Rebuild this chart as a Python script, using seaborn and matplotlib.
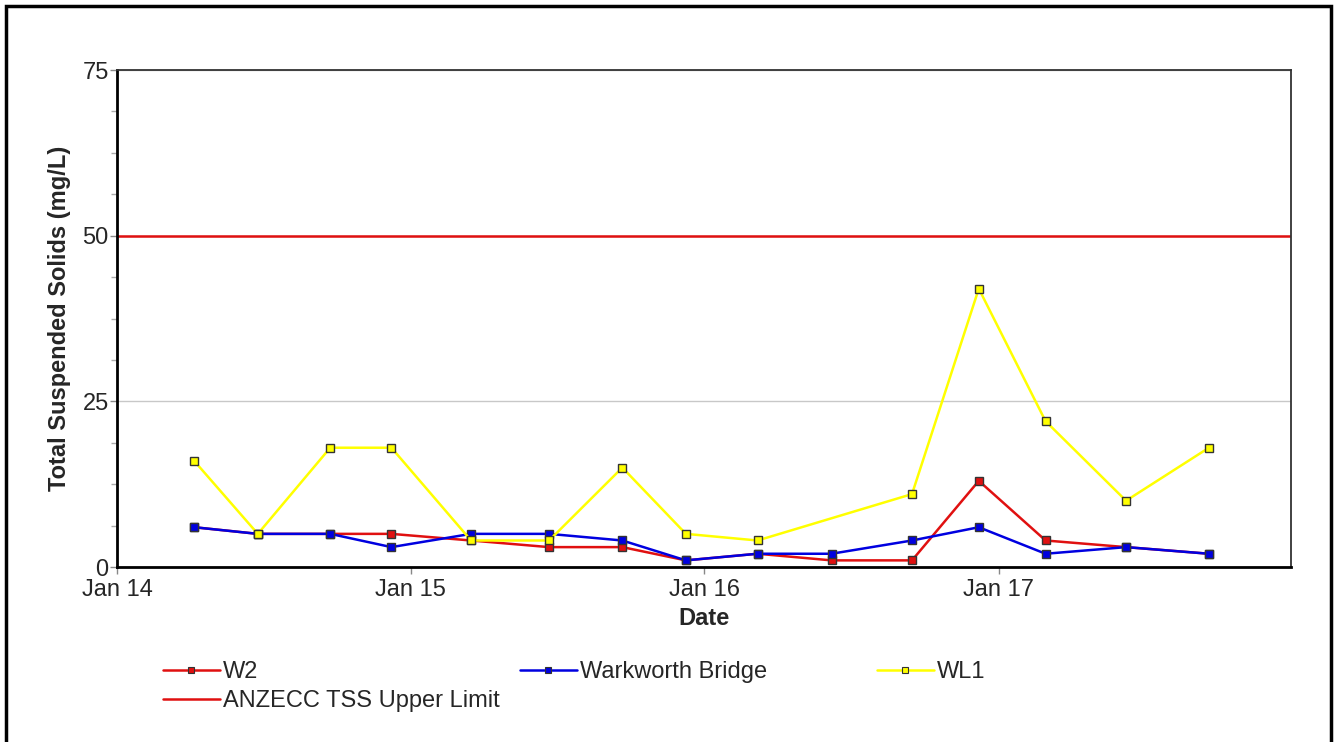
import pandas as pd
import matplotlib
matplotlib.use("Agg")
import matplotlib.pyplot as plt
import matplotlib.dates as mdates
from matplotlib.lines import Line2D
from matplotlib.patches import Rectangle
from matplotlib.ticker import MultipleLocator
import seaborn as sns

# Sampling dates (roughly quarterly)
dates = ["2014-04-07", "2014-06-25", "2014-09-23", "2014-12-08", "2015-03-17",
         "2015-06-22", "2015-09-21", "2015-12-09", "2016-03-07", "2016-06-07",
         "2016-09-15", "2016-12-07", "2017-02-28", "2017-06-08", "2017-09-19"]

# Total suspended solids (mg/L) per site, None = not sampled
w2 = [6, 5, 5, 5, 4, 3, 3, 1, 2, 1, 1, 13, 4, 3, 2]
warkworth = [6, 5, 5, 3, 5, 5, 4, 1, 2, 2, 4, 6, 2, 3, 2]
wl1 = [16, 5, 18, 18, 4, 4, 15, 5, 4, None, 11, 42, 22, 10, 18]

anzecc_limit = 50

sites = ["W2", "Warkworth Bridge", "WL1"]
site_colors = {"W2": "#e01010", "Warkworth Bridge": "#0000e0", "WL1": "#ffff00"}
limit_color = "#e01010"

# Build a long-form table for seaborn
rows = []
for site, vals in zip(sites, [w2, warkworth, wl1]):
    for d, v in zip(dates, vals):
        if v is not None:
            rows.append({"date": pd.Timestamp(d), "tss": v, "site": site})
df = pd.DataFrame(rows)

sns.set_style("white")
plt.rcParams["font.family"] = ["Liberation Sans", "DejaVu Sans"]

fig = plt.figure(figsize=(13.37, 7.42), dpi=100)
ax = fig.add_axes([117 / 1337, 1 - 567 / 742, (1291 - 117) / 1337, (567 - 70) / 742])

# Grid and limit line
ax.yaxis.grid(True, color="#c8c8c8", linewidth=1)
ax.set_axisbelow(True)
ax.axhline(anzecc_limit, color=limit_color, linewidth=1.8, zorder=2)

# Plot each site
sns.lineplot(
    data=df, x="date", y="tss", hue="site", hue_order=sites,
    palette=site_colors, marker="s", markersize=6, markeredgecolor="#333333",
    markeredgewidth=1, linewidth=1.8, legend=False, ax=ax, zorder=3
)

# Axes limits and ticks
ax.set_xlim(pd.Timestamp("2014-01-01"), pd.Timestamp("2017-12-30"))
ax.set_ylim(0, 75)
ax.xaxis.set_major_locator(mdates.YearLocator())
ax.xaxis.set_major_formatter(mdates.DateFormatter("%b %y"))
ax.yaxis.set_major_locator(MultipleLocator(25))
ax.yaxis.set_minor_locator(MultipleLocator(6.25))
ax.tick_params(axis="both", which="major", labelsize=17, length=5, width=1,
               color="#888888", direction="out")
ax.tick_params(axis="x", which="major", pad=4)
ax.tick_params(axis="y", which="major", pad=1)
ax.tick_params(axis="y", which="minor", length=4, width=1, color="#aaaaaa",
               direction="out", left=True)
ax.tick_params(axis="x", bottom=True)
ax.tick_params(axis="y", left=True)

for side in ["left", "bottom"]:
    ax.spines[side].set_color("black")
    ax.spines[side].set_linewidth(2)
for side in ["top", "right"]:
    ax.spines[side].set_color("#333333")
    ax.spines[side].set_linewidth(1.3)

ax.set_xlabel("Date", fontsize=17, fontweight="bold", labelpad=4)
ax.set_ylabel("Total Suspended Solids (mg/L)", fontsize=17, fontweight="bold", labelpad=8)

# Legends (three columns placed separately)
def handle(color, marker=True):
    if marker:
        return Line2D([], [], color=color, linewidth=1.8, marker="s", markersize=5,
                      markerfacecolor=color, markeredgecolor="#333333", markeredgewidth=0.8)
    return Line2D([], [], color=color, linewidth=1.8)

leg_kw = dict(loc="upper left", frameon=False, fontsize=17, borderpad=0,
              borderaxespad=0, handlelength=2.4, handletextpad=0.15, labelspacing=0.3)

leg1 = fig.legend([handle(site_colors["W2"]), handle(limit_color, marker=False)],
                  ["W2", "ANZECC TSS Upper Limit"],
                  bbox_to_anchor=(163 / 1337, 1 - 661 / 742), **leg_kw)
leg2 = fig.legend([handle(site_colors["Warkworth Bridge"])], ["Warkworth Bridge"],
                  bbox_to_anchor=(520 / 1337, 1 - 661 / 742), **leg_kw)
leg3 = fig.legend([handle(site_colors["WL1"])], ["WL1"],
                  bbox_to_anchor=(877 / 1337, 1 - 661 / 742), **leg_kw)

# Outer frame around the whole chart
fig.patches.append(Rectangle((6 / 1337, -0.05), (1331 - 6) / 1337, 1.05 - 6 / 742,
                             transform=fig.transFigure, fill=False,
                             edgecolor="black", linewidth=2.5))

fig.savefig("out.png", dpi=100)
